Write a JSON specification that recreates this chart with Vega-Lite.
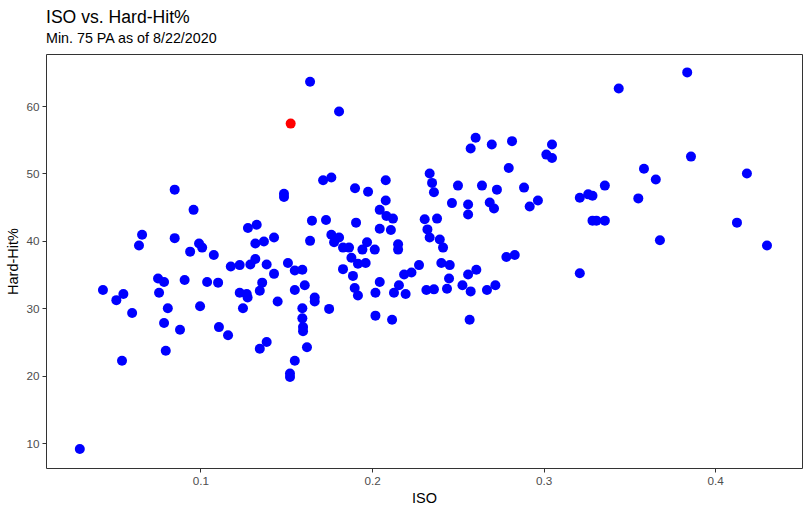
{
  "$schema": "https://vega.github.io/schema/vega-lite/v6.json",
  "autosize": "none",
  "width": 756,
  "height": 414,
  "padding": {"left": 46, "top": 54, "right": 8, "bottom": 45},
  "background": "white",
  "title": {
    "text": "ISO vs. Hard-Hit%",
    "subtitle": "Min. 75 PA as of 8/22/2020",
    "anchor": "start",
    "frame": "group",
    "offset": 8,
    "font": "Liberation Sans",
    "fontSize": 17.6,
    "fontWeight": "normal",
    "color": "#000000",
    "subtitleFont": "Liberation Sans",
    "subtitleFontSize": 14.3,
    "subtitleColor": "#000000",
    "subtitlePadding": 5
  },
  "data": {
    "values": [
      {"iso": 0.085, "hh": 47.6, "group": "Other"},
      {"iso": 0.096, "hh": 44.6, "group": "Other"},
      {"iso": 0.066, "hh": 40.9, "group": "Other"},
      {"iso": 0.0642, "hh": 39.3, "group": "Other"},
      {"iso": 0.085, "hh": 40.4, "group": "Other"},
      {"iso": 0.094, "hh": 38.4, "group": "Other"},
      {"iso": 0.0992, "hh": 39.6, "group": "Other"},
      {"iso": 0.101, "hh": 39.0, "group": "Other"},
      {"iso": 0.1078, "hh": 37.9, "group": "Other"},
      {"iso": 0.1277, "hh": 41.9, "group": "Other"},
      {"iso": 0.1328, "hh": 42.4, "group": "Other"},
      {"iso": 0.132, "hh": 39.6, "group": "Other"},
      {"iso": 0.137, "hh": 39.9, "group": "Other"},
      {"iso": 0.1429, "hh": 40.5, "group": "Other"},
      {"iso": 0.1487, "hh": 47.0, "group": "Other"},
      {"iso": 0.1487, "hh": 46.5, "group": "Other"},
      {"iso": 0.1177, "hh": 36.2, "group": "Other"},
      {"iso": 0.1229, "hh": 36.4, "group": "Other"},
      {"iso": 0.1291, "hh": 36.5, "group": "Other"},
      {"iso": 0.132, "hh": 37.3, "group": "Other"},
      {"iso": 0.1386, "hh": 36.5, "group": "Other"},
      {"iso": 0.1429, "hh": 35.1, "group": "Other"},
      {"iso": 0.151, "hh": 36.7, "group": "Other"},
      {"iso": 0.155, "hh": 35.6, "group": "Other"},
      {"iso": 0.155, "hh": 32.7, "group": "Other"},
      {"iso": 0.0432, "hh": 32.7, "group": "Other"},
      {"iso": 0.051, "hh": 31.2, "group": "Other"},
      {"iso": 0.0551, "hh": 32.1, "group": "Other"},
      {"iso": 0.0602, "hh": 29.3, "group": "Other"},
      {"iso": 0.0543, "hh": 22.2, "group": "Other"},
      {"iso": 0.0297, "hh": 9.1, "group": "Other"},
      {"iso": 0.0753, "hh": 34.4, "group": "Other"},
      {"iso": 0.0788, "hh": 33.9, "group": "Other"},
      {"iso": 0.0759, "hh": 32.3, "group": "Other"},
      {"iso": 0.081, "hh": 30.0, "group": "Other"},
      {"iso": 0.0788, "hh": 27.8, "group": "Other"},
      {"iso": 0.0798, "hh": 23.7, "group": "Other"},
      {"iso": 0.0908, "hh": 34.2, "group": "Other"},
      {"iso": 0.0881, "hh": 26.8, "group": "Other"},
      {"iso": 0.0998, "hh": 30.3, "group": "Other"},
      {"iso": 0.1039, "hh": 33.9, "group": "Other"},
      {"iso": 0.1103, "hh": 33.8, "group": "Other"},
      {"iso": 0.1108, "hh": 27.2, "group": "Other"},
      {"iso": 0.1161, "hh": 26.0, "group": "Other"},
      {"iso": 0.1229, "hh": 32.3, "group": "Other"},
      {"iso": 0.127, "hh": 32.1, "group": "Other"},
      {"iso": 0.1275, "hh": 31.6, "group": "Other"},
      {"iso": 0.1248, "hh": 30.0, "group": "Other"},
      {"iso": 0.1346, "hh": 32.6, "group": "Other"},
      {"iso": 0.136, "hh": 33.8, "group": "Other"},
      {"iso": 0.145, "hh": 31.0, "group": "Other"},
      {"iso": 0.1346, "hh": 24.0, "group": "Other"},
      {"iso": 0.1386, "hh": 25.0, "group": "Other"},
      {"iso": 0.155, "hh": 22.2, "group": "Other"},
      {"iso": 0.1522, "hh": 20.3, "group": "Other"},
      {"iso": 0.1522, "hh": 19.8, "group": "Other"},
      {"iso": 0.1594, "hh": 35.7, "group": "Other"},
      {"iso": 0.1608, "hh": 33.4, "group": "Other"},
      {"iso": 0.1666, "hh": 31.6, "group": "Other"},
      {"iso": 0.1666, "hh": 31.0, "group": "Other"},
      {"iso": 0.1594, "hh": 30.0, "group": "Other"},
      {"iso": 0.1594, "hh": 28.5, "group": "Other"},
      {"iso": 0.1598, "hh": 27.2, "group": "Other"},
      {"iso": 0.1598, "hh": 26.6, "group": "Other"},
      {"iso": 0.175, "hh": 29.9, "group": "Other"},
      {"iso": 0.1621, "hh": 24.2, "group": "Other"},
      {"iso": 0.1831, "hh": 35.8, "group": "Other"},
      {"iso": 0.188, "hh": 37.5, "group": "Other"},
      {"iso": 0.1889, "hh": 34.8, "group": "Other"},
      {"iso": 0.1918, "hh": 36.6, "group": "Other"},
      {"iso": 0.1963, "hh": 36.7, "group": "Other"},
      {"iso": 0.1899, "hh": 33.0, "group": "Other"},
      {"iso": 0.1918, "hh": 31.9, "group": "Other"},
      {"iso": 0.202, "hh": 32.3, "group": "Other"},
      {"iso": 0.2045, "hh": 33.9, "group": "Other"},
      {"iso": 0.202, "hh": 28.9, "group": "Other"},
      {"iso": 0.2117, "hh": 28.3, "group": "Other"},
      {"iso": 0.2128, "hh": 32.3, "group": "Other"},
      {"iso": 0.2157, "hh": 33.4, "group": "Other"},
      {"iso": 0.2196, "hh": 32.1, "group": "Other"},
      {"iso": 0.2187, "hh": 35.0, "group": "Other"},
      {"iso": 0.223, "hh": 35.3, "group": "Other"},
      {"iso": 0.2274, "hh": 36.4, "group": "Other"},
      {"iso": 0.2317, "hh": 32.7, "group": "Other"},
      {"iso": 0.2361, "hh": 32.8, "group": "Other"},
      {"iso": 0.2404, "hh": 36.7, "group": "Other"},
      {"iso": 0.2453, "hh": 36.4, "group": "Other"},
      {"iso": 0.2449, "hh": 34.4, "group": "Other"},
      {"iso": 0.2437, "hh": 32.9, "group": "Other"},
      {"iso": 0.2527, "hh": 33.4, "group": "Other"},
      {"iso": 0.2575, "hh": 32.5, "group": "Other"},
      {"iso": 0.256, "hh": 35.0, "group": "Other"},
      {"iso": 0.2608, "hh": 35.7, "group": "Other"},
      {"iso": 0.2569, "hh": 28.3, "group": "Other"},
      {"iso": 0.267, "hh": 32.7, "group": "Other"},
      {"iso": 0.2719, "hh": 33.4, "group": "Other"},
      {"iso": 0.2783, "hh": 37.6, "group": "Other"},
      {"iso": 0.2832, "hh": 37.9, "group": "Other"},
      {"iso": 0.1639, "hh": 63.6, "group": "Other"},
      {"iso": 0.1808, "hh": 59.2, "group": "Other"},
      {"iso": 0.2604, "hh": 55.3, "group": "Other"},
      {"iso": 0.2575, "hh": 53.7, "group": "Other"},
      {"iso": 0.2698, "hh": 54.3, "group": "Other"},
      {"iso": 0.2816, "hh": 54.8, "group": "Other"},
      {"iso": 0.2797, "hh": 50.8, "group": "Other"},
      {"iso": 0.2336, "hh": 50.0, "group": "Other"},
      {"iso": 0.235, "hh": 48.6, "group": "Other"},
      {"iso": 0.2361, "hh": 47.2, "group": "Other"},
      {"iso": 0.2501, "hh": 48.2, "group": "Other"},
      {"iso": 0.2641, "hh": 48.2, "group": "Other"},
      {"iso": 0.2728, "hh": 47.6, "group": "Other"},
      {"iso": 0.2886, "hh": 47.9, "group": "Other"},
      {"iso": 0.1715, "hh": 49.0, "group": "Other"},
      {"iso": 0.1763, "hh": 49.4, "group": "Other"},
      {"iso": 0.1901, "hh": 47.8, "group": "Other"},
      {"iso": 0.1977, "hh": 47.3, "group": "Other"},
      {"iso": 0.208, "hh": 49.0, "group": "Other"},
      {"iso": 0.208, "hh": 46.0, "group": "Other"},
      {"iso": 0.2045, "hh": 44.6, "group": "Other"},
      {"iso": 0.2084, "hh": 43.7, "group": "Other"},
      {"iso": 0.2122, "hh": 43.3, "group": "Other"},
      {"iso": 0.2045, "hh": 41.8, "group": "Other"},
      {"iso": 0.211, "hh": 41.6, "group": "Other"},
      {"iso": 0.165, "hh": 43.0, "group": "Other"},
      {"iso": 0.1732, "hh": 43.1, "group": "Other"},
      {"iso": 0.1907, "hh": 42.7, "group": "Other"},
      {"iso": 0.1639, "hh": 40.0, "group": "Other"},
      {"iso": 0.1763, "hh": 40.9, "group": "Other"},
      {"iso": 0.1808, "hh": 40.5, "group": "Other"},
      {"iso": 0.1779, "hh": 39.8, "group": "Other"},
      {"iso": 0.1831, "hh": 39.0, "group": "Other"},
      {"iso": 0.1866, "hh": 39.0, "group": "Other"},
      {"iso": 0.1944, "hh": 38.7, "group": "Other"},
      {"iso": 0.1971, "hh": 39.8, "group": "Other"},
      {"iso": 0.2016, "hh": 38.7, "group": "Other"},
      {"iso": 0.2152, "hh": 39.5, "group": "Other"},
      {"iso": 0.2152, "hh": 38.7, "group": "Other"},
      {"iso": 0.2466, "hh": 45.6, "group": "Other"},
      {"iso": 0.256, "hh": 45.4, "group": "Other"},
      {"iso": 0.256, "hh": 43.9, "group": "Other"},
      {"iso": 0.2686, "hh": 45.7, "group": "Other"},
      {"iso": 0.2711, "hh": 44.8, "group": "Other"},
      {"iso": 0.2919, "hh": 45.1, "group": "Other"},
      {"iso": 0.2967, "hh": 46.0, "group": "Other"},
      {"iso": 0.2307, "hh": 43.2, "group": "Other"},
      {"iso": 0.2379, "hh": 43.3, "group": "Other"},
      {"iso": 0.2323, "hh": 41.7, "group": "Other"},
      {"iso": 0.2336, "hh": 40.5, "group": "Other"},
      {"iso": 0.2395, "hh": 40.2, "group": "Other"},
      {"iso": 0.2414, "hh": 39.0, "group": "Other"},
      {"iso": 0.3837, "hh": 65.0, "group": "Other"},
      {"iso": 0.3438, "hh": 62.6, "group": "Other"},
      {"iso": 0.3049, "hh": 54.3, "group": "Other"},
      {"iso": 0.3016, "hh": 52.8, "group": "Other"},
      {"iso": 0.3049, "hh": 52.3, "group": "Other"},
      {"iso": 0.3859, "hh": 52.5, "group": "Other"},
      {"iso": 0.3585, "hh": 50.7, "group": "Other"},
      {"iso": 0.3654, "hh": 49.1, "group": "Other"},
      {"iso": 0.4185, "hh": 50.0, "group": "Other"},
      {"iso": 0.3357, "hh": 48.2, "group": "Other"},
      {"iso": 0.3211, "hh": 46.4, "group": "Other"},
      {"iso": 0.326, "hh": 46.9, "group": "Other"},
      {"iso": 0.3285, "hh": 46.7, "group": "Other"},
      {"iso": 0.3552, "hh": 46.3, "group": "Other"},
      {"iso": 0.3285, "hh": 43.0, "group": "Other"},
      {"iso": 0.3308, "hh": 43.0, "group": "Other"},
      {"iso": 0.3357, "hh": 43.0, "group": "Other"},
      {"iso": 0.4127, "hh": 42.7, "group": "Other"},
      {"iso": 0.3678, "hh": 40.1, "group": "Other"},
      {"iso": 0.4302, "hh": 39.3, "group": "Other"},
      {"iso": 0.3211, "hh": 35.2, "group": "Other"},
      {"iso": 0.1526, "hh": 57.4, "group": "Highlight"}
    ]
  },
  "mark": {"type": "circle", "size": 100, "opacity": 1},
  "encoding": {
    "x": {
      "field": "iso",
      "type": "quantitative",
      "title": "ISO",
      "scale": {"domain": [0.01, 0.4506], "nice": false, "zero": false},
      "axis": {"values": [0.1, 0.2, 0.3, 0.4], "format": ".1f", "titlePadding": 5}
    },
    "y": {
      "field": "hh",
      "type": "quantitative",
      "title": "Hard-Hit%",
      "scale": {"domain": [6.29, 67.73], "nice": false, "zero": false},
      "axis": {"values": [10, 20, 30, 40, 50, 60], "format": "d", "titlePadding": 5}
    },
    "color": {
      "field": "group",
      "type": "nominal",
      "scale": {"domain": ["Other", "Highlight"], "range": ["#0000ff", "#ff0000"]},
      "legend": null
    }
  },
  "config": {
    "view": {"stroke": "#333333", "strokeWidth": 1},
    "axis": {
      "grid": false,
      "domain": false,
      "ticks": true,
      "tickColor": "#333333",
      "tickSize": 4,
      "labelColor": "#4d4d4d",
      "labelFont": "Liberation Sans",
      "labelFontSize": 11.7,
      "labelPadding": 3,
      "titleFont": "Liberation Sans",
      "titleFontSize": 14.5,
      "titleFontWeight": "normal",
      "titleColor": "#000000"
    }
  }
}
